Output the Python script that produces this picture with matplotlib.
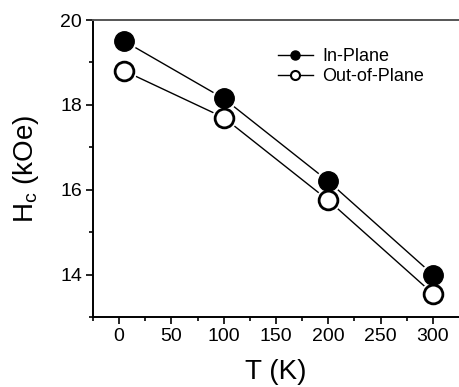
import matplotlib.pyplot as plt
from matplotlib.lines import Line2D

plt.rcParams["font.family"] = ["Liberation Sans", "DejaVu Sans"]

# temperature (K) and coercive field (kOe)
temps = [5, 100, 200, 300]
hc_in_plane = [19.5, 18.15, 16.2, 14.0]
hc_out_plane = [18.8, 17.7, 15.75, 13.55]
series_labels = ["In-Plane", "Out-of-Plane"]

fig = plt.figure(figsize=(4.59, 3.87), dpi=100)
ax = fig.add_axes([0.2026, 0.1809, 0.7974, 0.7674])

# connecting lines first, then a white halo so the lines stop short of the markers
for vals in (hc_in_plane, hc_out_plane):
    ax.plot(temps, vals, color="black", lw=1.0, zorder=1)
for vals in (hc_in_plane, hc_out_plane):
    ax.plot(temps, vals, "o", ms=17, mfc="white", mec="white", zorder=2)
ax.plot(temps, hc_out_plane, "o", ms=13.5, mfc="white", mec="black", mew=2.0, zorder=3)
ax.plot(temps, hc_in_plane, "o", ms=14, mfc="black", mec="black", zorder=4)

ax.set_xlim(-25, 325)
ax.set_ylim(13, 20)
ax.set_xticks([0, 50, 100, 150, 200, 250, 300])
ax.set_xticks([-25, 25, 75, 125, 175, 225, 275], minor=True)
ax.set_yticks([14, 16, 18, 20])
ax.set_yticks([13, 15, 17, 19], minor=True)
ax.tick_params(axis="both", which="major", direction="out", length=5, width=1.2,
               labelsize=14, pad=3)
ax.tick_params(axis="both", which="minor", direction="out", length=3, width=1.2)
ax.tick_params(top=False, right=False)

ax.spines["right"].set_visible(False)
for side in ("left", "bottom", "top"):
    ax.spines[side].set_linewidth(1.4)
ax.spines["top"].set_color("#555555")

ax.set_xlabel("T (K)", fontsize=20, labelpad=10)
ax.set_ylabel(r"H$_\mathregular{c}$ (kOe)", fontsize=20, labelpad=14)

handles = [
    Line2D([], [], color="black", lw=1.0, marker="o", ms=6.5, mfc="black", mec="black"),
    Line2D([], [], color="black", lw=1.0, marker="o", ms=6.5, mfc="white", mec="black", mew=1.5),
]
ax.legend(handles, series_labels, loc="upper left", bbox_to_anchor=(0.505, 0.905),
          frameon=False, fontsize=13, handlelength=1.95, handletextpad=0.5,
          labelspacing=0.15, borderaxespad=0, borderpad=0)

fig.savefig("out.png", dpi=100)
